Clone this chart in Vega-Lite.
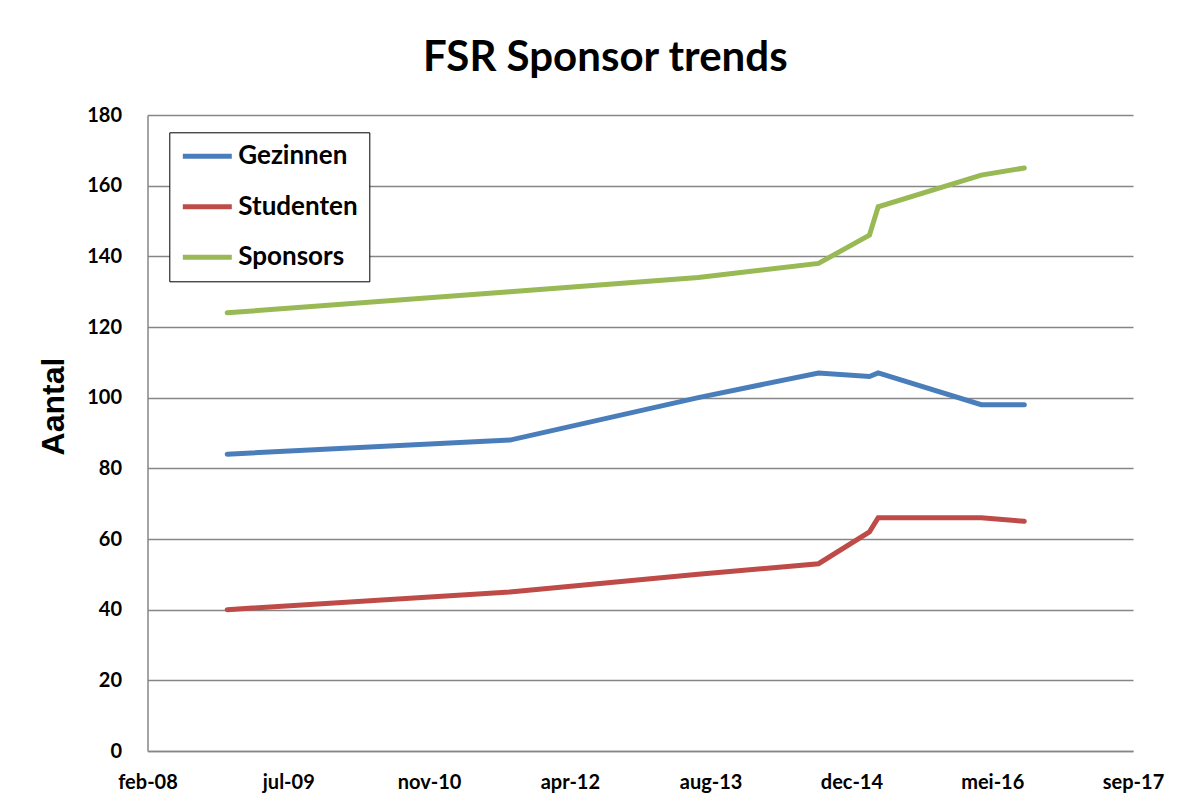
{
  "$schema": "https://vega.github.io/schema/vega-lite/v6.json",
  "width": 985.5,
  "height": 636,
  "autosize": {"type": "none"},
  "padding": {"left": 147.5, "top": 115, "right": 65, "bottom": 56},
  "background": "white",
  "title": {
    "text": "FSR Sponsor trends",
    "font": "Lato",
    "fontSize": 42,
    "fontWeight": "bold",
    "color": "black",
    "anchor": "middle",
    "dx": -35,
    "dy": 41,
    "baseline": "alphabetic",
    "offset": 33
  },
  "data": {
    "values": [
      {"date": "2008-12-01", "reeks": "Gezinnen", "aantal": 84},
      {"date": "2011-09-01", "reeks": "Gezinnen", "aantal": 88},
      {"date": "2013-07-01", "reeks": "Gezinnen", "aantal": 100},
      {"date": "2014-09-01", "reeks": "Gezinnen", "aantal": 107},
      {"date": "2015-03-01", "reeks": "Gezinnen", "aantal": 106},
      {"date": "2015-04-01", "reeks": "Gezinnen", "aantal": 107},
      {"date": "2016-04-01", "reeks": "Gezinnen", "aantal": 98},
      {"date": "2016-09-01", "reeks": "Gezinnen", "aantal": 98},
      {"date": "2008-12-01", "reeks": "Studenten", "aantal": 40},
      {"date": "2011-09-01", "reeks": "Studenten", "aantal": 45},
      {"date": "2013-07-01", "reeks": "Studenten", "aantal": 50},
      {"date": "2014-09-01", "reeks": "Studenten", "aantal": 53},
      {"date": "2015-03-01", "reeks": "Studenten", "aantal": 62},
      {"date": "2015-04-01", "reeks": "Studenten", "aantal": 66},
      {"date": "2016-04-01", "reeks": "Studenten", "aantal": 66},
      {"date": "2016-09-01", "reeks": "Studenten", "aantal": 65},
      {"date": "2008-12-01", "reeks": "Sponsors", "aantal": 124},
      {"date": "2011-09-01", "reeks": "Sponsors", "aantal": 130},
      {"date": "2013-07-01", "reeks": "Sponsors", "aantal": 134},
      {"date": "2014-09-01", "reeks": "Sponsors", "aantal": 138},
      {"date": "2015-03-01", "reeks": "Sponsors", "aantal": 146},
      {"date": "2015-04-01", "reeks": "Sponsors", "aantal": 154},
      {"date": "2016-04-01", "reeks": "Sponsors", "aantal": 163},
      {"date": "2016-09-01", "reeks": "Sponsors", "aantal": 165}
    ]
  },
  "mark": {"type": "line", "strokeWidth": 5, "strokeCap": "round"},
  "encoding": {
    "x": {
      "field": "date",
      "type": "temporal",
      "scale": {
        "type": "utc",
        "domain": [
          {"year": 2008, "month": 2, "date": 22, "utc": true},
          {"year": 2017, "month": 9, "date": 22, "utc": true}
        ]
      },
      "axis": {
        "title": null,
        "values": [
          {"year": 2008, "month": 2, "date": 22, "utc": true},
          {"year": 2009, "month": 7, "date": 6, "utc": true},
          {"year": 2010, "month": 11, "date": 18, "utc": true},
          {"year": 2012, "month": 4, "date": 1, "utc": true},
          {"year": 2013, "month": 8, "date": 14, "utc": true},
          {"year": 2014, "month": 12, "date": 27, "utc": true},
          {"year": 2016, "month": 5, "date": 10, "utc": true},
          {"year": 2017, "month": 9, "date": 22, "utc": true}
        ],
        "labelExpr": "['jan','feb','mrt','apr','mei','jun','jul','aug','sep','okt','nov','dec'][utcmonth(datum.value)] + '-' + utcFormat(datum.value, '%y')",
        "grid": false,
        "ticks": false,
        "domainColor": "#868686",
        "domainWidth": 1.5,
        "labelFont": "Lato",
        "labelFontSize": 20,
        "labelFontWeight": "bold",
        "labelColor": "black",
        "labelPadding": 21,
        "labelFlush": false,
        "labelOverlap": false
      }
    },
    "y": {
      "field": "aantal",
      "type": "quantitative",
      "scale": {"domain": [0, 180], "nice": false},
      "axis": {
        "values": [0, 20, 40, 60, 80, 100, 120, 140, 160, 180],
        "grid": true,
        "gridColor": "#868686",
        "gridWidth": 1.3,
        "ticks": false,
        "domainColor": "#868686",
        "domainWidth": 1.5,
        "labelPadding": 26,
        "labelFont": "Lato",
        "labelFontSize": 20,
        "labelFontWeight": "bold",
        "labelColor": "black",
        "title": "Aantal",
        "titleFont": "Liberation Sans Narrow, Arial Narrow, Liberation Sans, sans-serif",
        "titleFontSize": 32,
        "titleFontWeight": "bold",
        "titleColor": "black",
        "titleAngle": -90,
        "titleX": -84,
        "titleY": 291,
        "titleAlign": "center",
        "titleBaseline": "alphabetic"
      }
    },
    "color": {
      "field": "reeks",
      "type": "nominal",
      "scale": {
        "domain": ["Gezinnen", "Studenten", "Sponsors"],
        "range": ["#4A7EBB", "#BE4B48", "#98B954"]
      },
      "legend": {
        "orient": "none",
        "legendX": 21.8,
        "legendY": 17.3,
        "title": null,
        "symbolType": "stroke",
        "symbolSize": 2400,
        "symbolStrokeWidth": 5,
        "labelFont": "Lato",
        "labelFontSize": 26,
        "labelFontWeight": "bold",
        "labelColor": "black",
        "labelOffset": 4,
        "padding": 11,
        "clipHeight": 26,
        "rowPadding": 24.5,
        "strokeColor": "black",
        "fillColor": "white"
      }
    }
  },
  "config": {"view": {"stroke": null}}
}
